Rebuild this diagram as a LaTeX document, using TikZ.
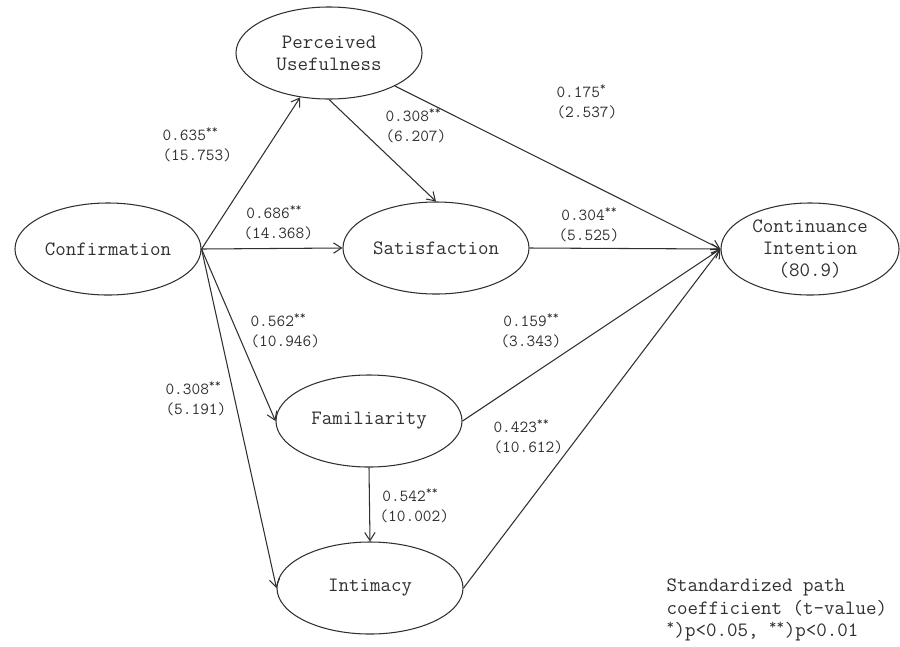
\documentclass[tikz,border=0pt]{standalone}
\usetikzlibrary{arrows,arrows.meta,shapes.geometric}
\definecolor{ink}{HTML}{303030}
\newcommand{\sigtwo}{\textsuperscript{**}}
\begin{document}
\begin{tikzpicture}[x=0.025cm, y=-0.025cm, ink, line width=0.75pt,
    >={Straight Barb[length=2mm, width=2.6mm]},
    main/.style = {draw, ellipse, inner sep=0pt, minimum width=4.65cm, minimum height=2.3cm,
                   align=center, font=\ttfamily\fontsize{14.5}{15.5}\selectfont},
    coef/.style = {anchor=west, align=left, inner sep=0pt, font=\ttfamily\fontsize{12}{14.5}\selectfont}]
    \useasboundingbox (0,0) rectangle (900,646);
    \node[main] (conf) at (108,249) {Confirmation};
    \node[main] (pu) at (329,53) {Perceived\\Usefulness};
    \node[main] (sat) at (436,248) {Satisfaction};
    \node[main, minimum width=4.45cm] (ci) at (810,249) {Continuance\\Intention\\(80.9)};
    \node[main] (fam) at (369,421) {Familiarity};
    \node[main] (int) at (370,588) {Intimacy};
    \draw[->] (conf.east) -- (pu);
    \draw[->] (conf.east) -- (sat.west);
    \draw[->] (conf.east) -- (fam.west);
    \draw[->] (conf.east) -- (int.west);
    \draw[->] (pu.south) -- (sat.north);
    \draw[->] (pu) -- (ci.west);
    \draw[->] (sat.east) -- (ci.west);
    \draw[->] (fam.east) -- (ci.west);
    \draw[->] (int.east) -- (ci.west);
    \draw[->] (fam.south) -- (int.north);
    \node[coef] (c1) at (162,145) {0.635\sigtwo\\(15.753)};
    \node[coef] (c2) at (385,126) {0.308\sigtwo\\(6.207)};
    \node[coef] (c3) at (556,102) {0.175\textsuperscript{*}\\(2.537)};
    \node[coef] (c4) at (243,223) {\,0.686\sigtwo\\(14.368)};
    \node[coef] (c5) at (558,225) {\,0.304\sigtwo\\(5.525)};
    \node[coef] (c6) at (250,331) {0.562\sigtwo\\(10.946)};
    \node[coef] (c7) at (500,331) {\,0.159\sigtwo\\(3.343)};
    \node[coef] (c8) at (165,399) {0.308\sigtwo\\(5.191)};
    \node[coef] (c9) at (493,437) {0.423\sigtwo\\(10.612)};
    \node[coef] (c10) at (379,506) {\,0.542\sigtwo\\(10.002)};
    \node[coef, font=\ttfamily\fontsize{14.5}{16}\selectfont] (note) at (666,610)
        {Standardized path\\coefficient (t-value)\\\textsuperscript{*})p<0.05, \textsuperscript{**})p<0.01};
\end{tikzpicture}
\end{document}
